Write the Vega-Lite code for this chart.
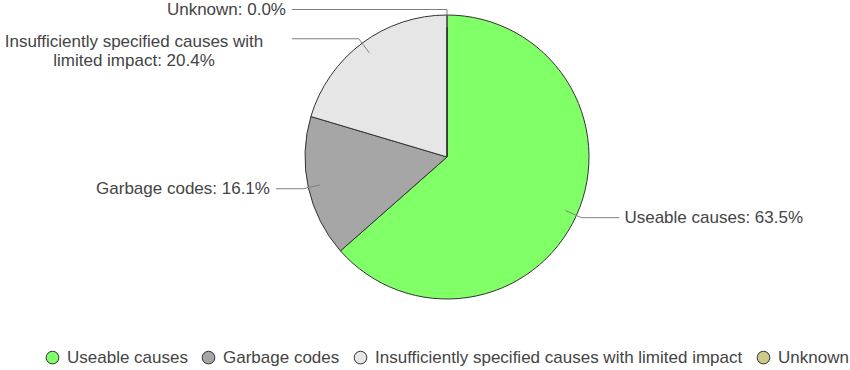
{
  "$schema": "https://vega.github.io/schema/vega-lite/v6.json",
  "width": 806,
  "height": 314,
  "autosize": "none",
  "padding": {"left": 44, "top": 0, "right": 0, "bottom": 56},
  "background": "white",
  "config": {"view": {"stroke": null}, "font": "Liberation Sans"},
  "data": {
    "values": [
      {"cause": "Useable causes", "pct": 63.5, "order": 1, "label": "Useable causes: 63.5%"},
      {"cause": "Garbage codes", "pct": 16.1, "order": 2, "label": "Garbage codes: 16.1%"},
      {"cause": "Insufficiently specified causes with limited impact", "pct": 20.4, "order": 3, "label": "Insufficiently specified causes with\nlimited impact: 20.4%"},
      {"cause": "Unknown", "pct": 0.0, "order": 4, "label": "Unknown: 0.0%"}
    ]
  },
  "transform": [
    {"stack": "pct", "groupby": [], "sort": [{"field": "order"}], "as": ["s0", "s1"]},
    {"calculate": "PI * (datum.s0 + datum.s1) / 100", "as": "mid"},
    {"calculate": "130 * sin(datum.mid)", "as": "px1"},
    {"calculate": "130 * cos(datum.mid)", "as": "py1"},
    {"calculate": "147.5 * sin(datum.mid)", "as": "px2"},
    {"calculate": "147.5 * cos(datum.mid)", "as": "py2"},
    {"calculate": "datum.px2 >= 0 ? datum.px2 + 38 : -max(abs(datum.px2) + 27, 155)", "as": "px3"}
  ],
  "layer": [
    {
      "mark": {"type": "arc", "outerRadius": 142, "stroke": "#333333", "strokeWidth": 1},
      "encoding": {
        "theta": {"field": "pct", "type": "quantitative", "stack": true},
        "order": {"field": "order", "type": "quantitative"},
        "color": {
          "field": "cause",
          "type": "nominal",
          "scale": {
            "domain": ["Useable causes", "Garbage codes", "Insufficiently specified causes with limited impact", "Unknown"],
            "range": ["#80ff66", "#a6a6a6", "#e6e6e6", "#cccc88"]
          },
          "legend": {
            "orient": "bottom",
            "direction": "horizontal",
            "title": null,
            "offset": 35,
            "symbolType": "circle",
            "symbolSize": 160,
            "symbolStrokeColor": "#333333",
            "symbolStrokeWidth": 1,
            "symbolOpacity": 1,
            "labelFont": "Liberation Sans",
            "labelFontSize": 17,
            "labelColor": "#444444",
            "labelOffset": 6,
            "columnPadding": 12,
            "labelLimit": 600
          }
        }
      }
    },
    {
      "mark": {"type": "rule", "color": "#7f7f7f", "strokeWidth": 1},
      "encoding": {
        "x": {"field": "px1", "type": "quantitative", "scale": {"domain": [-403, 403], "nice": false, "zero": false}, "axis": null},
        "y": {"field": "py1", "type": "quantitative", "scale": {"domain": [-157, 157], "nice": false, "zero": false}, "axis": null},
        "x2": {"field": "px2"},
        "y2": {"field": "py2"}
      }
    },
    {
      "mark": {"type": "rule", "color": "#7f7f7f", "strokeWidth": 1},
      "encoding": {
        "x": {"field": "px2", "type": "quantitative"},
        "y": {"field": "py2", "type": "quantitative"},
        "x2": {"field": "px3"}
      }
    },
    {
      "transform": [{"filter": "datum.px3 > 0"}],
      "mark": {"type": "text", "align": "left", "baseline": "middle", "dx": 5, "fontSize": 17, "color": "#444444", "font": "Liberation Sans"},
      "encoding": {
        "x": {"field": "px3", "type": "quantitative"},
        "y": {"field": "py2", "type": "quantitative"},
        "text": {"field": "label"}
      }
    },
    {
      "transform": [{"filter": "datum.px3 < 0 && datum.order != 3"}],
      "mark": {"type": "text", "align": "right", "baseline": "middle", "dx": -6, "fontSize": 17, "color": "#444444", "font": "Liberation Sans"},
      "encoding": {
        "x": {"field": "px3", "type": "quantitative"},
        "y": {"field": "py2", "type": "quantitative"},
        "text": {"field": "label"}
      }
    },
    {
      "transform": [{"filter": "datum.order == 3"}],
      "mark": {"type": "text", "align": "center", "baseline": "middle", "dx": -158, "dy": 3, "lineBreak": "\n", "lineHeight": 19, "fontSize": 17, "color": "#444444", "font": "Liberation Sans"},
      "encoding": {
        "x": {"field": "px3", "type": "quantitative"},
        "y": {"field": "py2", "type": "quantitative"},
        "text": {"field": "label"}
      }
    }
  ]
}
